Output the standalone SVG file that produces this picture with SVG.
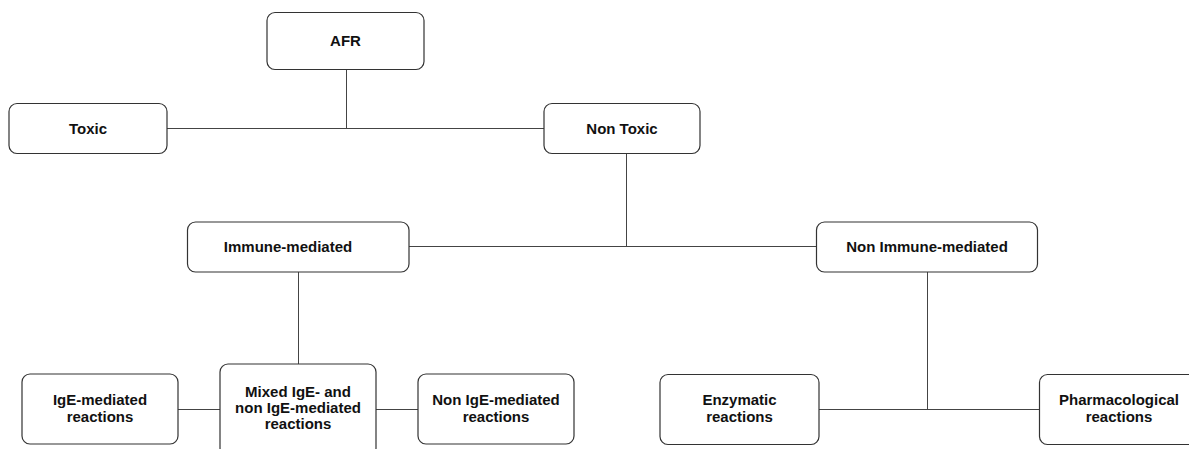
<svg xmlns="http://www.w3.org/2000/svg" width="1189" height="449" viewBox="0 0 1189 449">
<style>
.box{fill:#fff;stroke:#333;stroke-width:1.2}
.ln{stroke:#444;stroke-width:1;fill:none}
text{font-family:"Liberation Sans",Arial,sans-serif;font-weight:bold;font-size:15px;fill:#111;text-anchor:middle}
</style>
<rect width="1189" height="449" fill="#fff"/>
<g id="connectors">
<path class="ln" d="M346.5,69 V128.5 M167,128.5 H544"/>
<path class="ln" d="M626.5,154 V246.5 M409,246.5 H817"/>
<path class="ln" d="M298.5,272 V364"/>
<path class="ln" d="M178,409.5 H220 M376,409.5 H418"/>
<path class="ln" d="M927.5,272 V409.5 M819,409.5 H1039"/>
</g>
<g id="afr"><rect class="box" x="267" y="12.5" width="157" height="57" rx="8"/><text x="345.5" y="46">AFR</text></g>
<g id="toxic"><rect class="box" x="9" y="103.5" width="158" height="50" rx="8"/><text x="88" y="134">Toxic</text></g>
<g id="nontoxic"><rect class="box" x="544" y="103.5" width="156" height="50" rx="8"/><text x="622" y="134">Non Toxic</text></g>
<g id="immune"><rect class="box" x="187.5" y="222" width="221.5" height="50" rx="8"/><text x="288" y="252">Immune-mediated</text></g>
<g id="nonimmune"><rect class="box" x="816.5" y="222" width="221" height="50" rx="8"/><text x="927" y="252">Non Immune-mediated</text></g>
<g id="ige"><rect class="box" x="22" y="374" width="156" height="70" rx="8"/><text x="100" y="405">IgE-mediated</text><text x="100" y="422">reactions</text></g>
<g id="mixed"><rect class="box" x="220" y="364" width="156" height="92" rx="8"/><text x="298" y="397">Mixed IgE- and</text><text x="298" y="413">non IgE-mediated</text><text x="298" y="429">reactions</text></g>
<g id="nonige"><rect class="box" x="418" y="374" width="156" height="70" rx="8"/><text x="496" y="405">Non IgE-mediated</text><text x="496" y="422">reactions</text></g>
<g id="enzymatic"><rect class="box" x="660" y="374.5" width="159" height="70" rx="8"/><text x="739.5" y="405">Enzymatic</text><text x="739.5" y="422">reactions</text></g>
<g id="pharma"><rect class="box" x="1039.5" y="374.5" width="160" height="70" rx="8"/><text x="1119" y="405">Pharmacological</text><text x="1119" y="422">reactions</text></g>
</svg>
